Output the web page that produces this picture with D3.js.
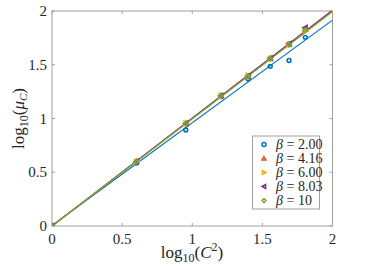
<!DOCTYPE html>
<html>
<head>
<meta charset="utf-8">
<script src="https://cdn.jsdelivr.net/npm/d3@7"></script>
<style>
  body { margin: 0; background: #fff; }
</style>
</head>
<body>
<svg width="374" height="270"></svg>
<script>
// log10(C^2) for C = 1..8
var xLog = [0, 0.602, 0.954, 1.204, 1.398, 1.556, 1.690, 1.806];

var betaLabels = ["2.00", "4.16", "6.00", "8.03", "10"];
var colors = ["#0072BD", "#D95319", "#EDB120", "#7E2F8E", "#77AC30"];
var markers = ["circle", "up", "right", "left", "diamond"];

var muB2  = [0, 0.585, 0.893, 1.205, 1.367, 1.485, 1.540, 1.755];
var muB4  = [0, 0.600, 0.955, 1.215, 1.395, 1.560, 1.690, 1.830];
var muB6  = [0, 0.600, 0.955, 1.210, 1.400, 1.555, 1.690, 1.825];
var muB8  = [0, 0.600, 0.953, 1.210, 1.395, 1.560, 1.695, 1.845];
var muB10 = [0, 0.598, 0.952, 1.210, 1.390, 1.555, 1.685, 1.820];
var series = [muB2, muB4, muB6, muB8, muB10];

// fitted lines: slope, intercept
var fitSlope = [0.955, 1.000, 0.998, 1.004, 0.997];
var fitIntercept = [0.005, 0, 0, 0, 0];

var ticks = [0, 0.5, 1, 1.5, 2];

function draw() {
  var svg = d3.select("svg"),
      x0 = 52, x1 = 332.5, y0 = 11, y1 = 226;

  var x = d3.scaleLinear().domain([0, 2]).range([x0, x1]);
  var y = d3.scaleLinear().domain([0, 2]).range([y1, y0]);

  svg.append("defs").append("clipPath").attr("id", "clip")
    .append("rect").attr("x", x0).attr("y", y0)
    .attr("width", x1 - x0).attr("height", y1 - y0);

  var axisColor = "#a0a0a0", textColor = "#262626";

  function label(sel) {
    return sel.append("text").style("font-family", "'Liberation Serif'").attr("fill", textColor);
  }

  // box
  svg.append("rect")
    .attr("x", x0).attr("y", y0)
    .attr("width", x1 - x0).attr("height", y1 - y0)
    .attr("fill", "none").attr("stroke", axisColor).attr("stroke-width", 1);

  // ticks inside, all four sides
  var tk = 3;
  ticks.forEach(function(t) {
    svg.append("line").attr("x1", x(t)).attr("x2", x(t)).attr("y1", y1).attr("y2", y1 - tk).attr("stroke", axisColor);
    svg.append("line").attr("x1", x(t)).attr("x2", x(t)).attr("y1", y0).attr("y2", y0 + tk).attr("stroke", axisColor);
    svg.append("line").attr("y1", y(t)).attr("y2", y(t)).attr("x1", x0).attr("x2", x0 + tk).attr("stroke", axisColor);
    svg.append("line").attr("y1", y(t)).attr("y2", y(t)).attr("x1", x1).attr("x2", x1 - tk).attr("stroke", axisColor);

    label(svg).attr("x", x(t)).attr("y", y1 + 18)
      .attr("text-anchor", "middle").attr("font-size", 15).text(String(t));
    label(svg).attr("x", x0 - 5).attr("y", y(t) + 5)
      .attr("text-anchor", "end").attr("font-size", 15).text(String(t));
  });

  // axis labels
  var xl = label(svg).attr("x", 192).attr("y", 258)
    .attr("text-anchor", "middle").attr("font-size", 17);
  xl.append("tspan").text("log");
  xl.append("tspan").attr("font-size", 12).attr("dy", 4).text("10");
  xl.append("tspan").attr("dy", -4).text("(");
  xl.append("tspan").attr("font-style", "italic").text("C");
  xl.append("tspan").attr("font-size", 12).attr("dy", -7).text("2");
  xl.append("tspan").attr("dy", 7).text(")");

  var yl = label(svg).attr("transform", "translate(24," + ((y0 + y1) / 2) + ") rotate(-90)")
    .attr("text-anchor", "middle").attr("font-size", 17);
  yl.append("tspan").text("log");
  yl.append("tspan").attr("font-size", 12).attr("dy", 4).text("10");
  yl.append("tspan").attr("dy", -4).text("(");
  yl.append("tspan").attr("font-style", "italic").text("μ");
  yl.append("tspan").attr("font-size", 11).attr("font-style", "italic").attr("dy", 3).text("C");
  yl.append("tspan").attr("dy", -3).text(")");

  function markerPath(type, s) {
    if (type === "up") return "M0," + (-s) + "L" + s + "," + (s * 0.8) + "L" + (-s) + "," + (s * 0.8) + "Z";
    if (type === "right") return "M" + s + ",0L" + (-s * 0.8) + "," + (-s) + "L" + (-s * 0.8) + "," + s + "Z";
    if (type === "left") return "M" + (-s) + ",0L" + (s * 0.8) + "," + (-s) + "L" + (s * 0.8) + "," + s + "Z";
    if (type === "diamond") return "M0," + (-s) + "L" + s + ",0L0," + s + "L" + (-s) + ",0Z";
    return d3.symbol().type(d3.symbolCircle).size(s * s * 3.14)();
  }

  var plot = svg.append("g").attr("clip-path", "url(#clip)");

  // fitted lines
  series.forEach(function(s, i) {
    plot.append("line")
      .attr("x1", x(0)).attr("y1", y(fitIntercept[i]))
      .attr("x2", x(2)).attr("y2", y(fitIntercept[i] + 2 * fitSlope[i]))
      .attr("stroke", colors[i]).attr("stroke-width", 1.2);
  });

  // markers
  series.forEach(function(s, i) {
    plot.selectAll(".m" + i)
      .data(s)
      .enter().append("path")
      .attr("transform", function(d, j) { return "translate(" + x(xLog[j]) + "," + y(d) + ")"; })
      .attr("d", markerPath(markers[i], i === 0 ? 1.9 : 2.2))
      .attr("fill", "none")
      .attr("stroke", colors[i])
      .attr("stroke-width", 1.6);
  });

  // legend
  var lg = svg.append("g");
  lg.append("rect").attr("x", 252.5).attr("y", 136).attr("width", 67).attr("height", 73)
    .attr("fill", "#fff").attr("stroke", axisColor);
  betaLabels.forEach(function(b, i) {
    var cy = 144.5 + i * 14;
    lg.append("path").attr("transform", "translate(264," + cy + ")")
      .attr("d", markerPath(markers[i], 2))
      .attr("fill", "none").attr("stroke", colors[i]).attr("stroke-width", 1.5);
    var t = label(lg).attr("x", 276).attr("y", cy + 4.5).attr("font-size", 14);
    t.append("tspan").attr("font-style", "italic").text("β");
    t.append("tspan").text(" = " + b);
  });
}

draw();
</script>
</body>
</html>
